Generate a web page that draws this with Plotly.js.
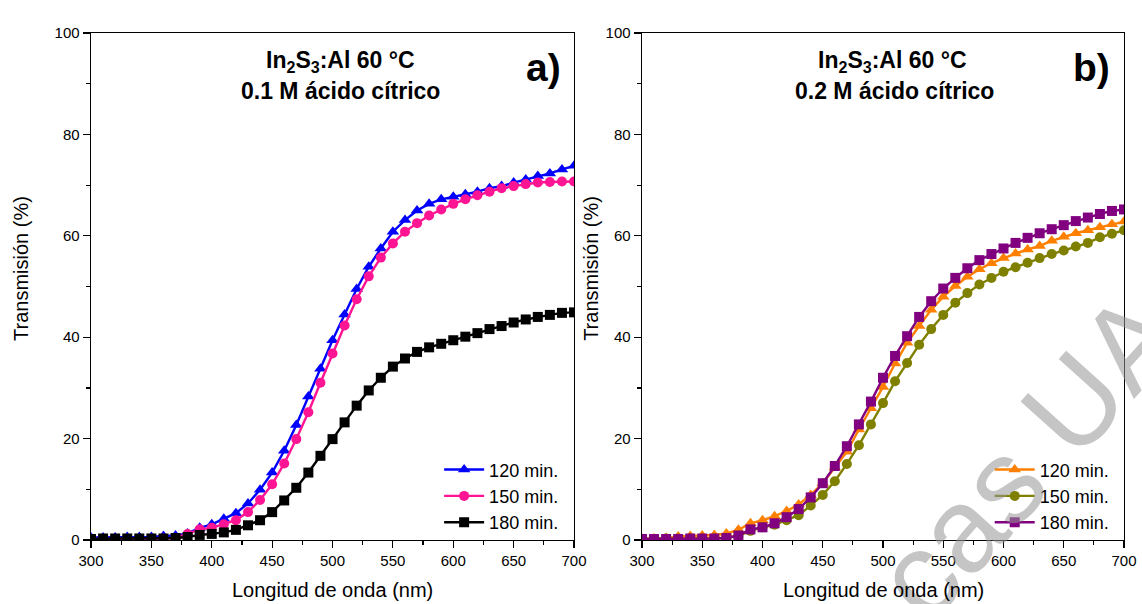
<!DOCTYPE html>
<html>
<head>
<meta charset="utf-8">
<script src="https://cdn.plot.ly/plotly-3.0.1.min.js"></script>
<style>html,body{margin:0;padding:0;background:#fff;}#chart{width:1142px;height:604px;}</style>
</head>
<body>
<div id="chart"></div>
<script>
// Wavelength (nm), 300..700 every 10 nm
const wavelength = [300,310,320,330,340,350,360,370,380,390,400,410,420,430,440,450,460,470,480,490,500,510,520,530,540,550,560,570,580,590,600,610,620,630,640,650,660,670,680,690,700];

// Panel a) 0.1 M citric acid
const a_120 = [0.5,0.5,0.5,0.6,0.6,0.6,0.8,0.9,1.3,2.4,3.1,4.2,5.3,7.2,9.9,13.3,17.6,22.7,28.3,33.8,39.4,44.5,49.5,53.9,57.5,60.8,63.1,65.0,66.3,67.2,67.7,68.2,68.7,69.4,69.8,70.5,71.1,71.8,72.3,73.1,73.8];
const a_150 = [0.2,0.2,0.2,0.2,0.2,0.2,0.3,0.4,1.2,2.1,2.4,3.1,3.9,5.5,7.9,11.0,15.1,19.9,25.2,31.0,36.8,42.3,47.5,52.0,55.7,58.5,60.8,62.5,64.0,65.2,66.3,67.2,68.0,68.7,69.4,69.8,70.2,70.5,70.6,70.7,70.7];
const a_180 = [0.2,0.3,0.3,0.3,0.3,0.3,0.3,0.4,0.6,1.0,1.2,1.5,2.0,2.9,3.9,5.5,7.8,10.3,13.3,16.6,19.9,23.2,26.5,29.5,32.0,34.2,35.8,37.1,38.0,38.7,39.4,40.1,40.8,41.6,42.2,42.9,43.5,44.0,44.4,44.8,44.9];

// Panel b) 0.2 M citric acid
const b_120 = [0.3,0.3,0.4,0.7,0.8,0.9,1.0,1.3,2.0,3.3,3.9,4.7,5.7,7.0,8.9,11.2,14.3,17.4,21.8,26.0,30.2,34.8,38.9,42.2,45.4,48.0,50.1,51.9,53.4,54.6,55.6,56.5,57.3,58.0,59.0,59.8,60.5,61.1,61.7,62.3,62.8];
const b_150 = [0.2,0.2,0.3,0.3,0.3,0.3,0.3,0.4,0.8,1.8,2.5,3.0,3.9,4.9,6.8,8.9,11.6,15.0,18.7,22.8,27.0,31.3,34.9,38.5,41.6,44.4,46.8,48.7,50.4,51.7,52.9,53.8,54.7,55.6,56.4,57.1,57.9,58.6,59.7,60.4,61.1];
const b_180 = [0.2,0.2,0.2,0.2,0.3,0.3,0.3,0.4,0.9,2.1,2.5,3.3,4.5,6.1,8.4,11.2,14.6,18.5,22.8,27.3,32.0,36.3,40.2,44.0,47.1,49.6,51.7,53.6,55.2,56.4,57.5,58.6,59.6,60.5,61.3,62.1,62.9,63.6,64.3,64.9,65.2];

const seriesNames = ['120 min.','150 min.','180 min.'];
const xTitle = 'Longitud de onda (nm)';
const yTitle = 'Transmisión (%)';
const titleLine1 = '<b>In<sub>2</sub>S<sub>3</sub>:Al 60 °C</b>';
const titleA = '<b>0.1 M ácido cítrico</b>';
const titleB = '<b>0.2 M ácido cítrico</b>';
const watermark = 'cas UA';

const FONT = 'Liberation Sans, Arial, Helvetica, sans-serif';

function tr(y, name, color, symbol, xa, ya, leg) {
  return {
    x: wavelength, y: y, name: name, type: 'scatter', mode: 'lines+markers',
    xaxis: xa, yaxis: ya, legend: leg,
    line: {color: color, width: 2.4},
    marker: {color: color, symbol: symbol, size: symbol === 'triangle-up' ? 11 : 10, line: {width: 0}}
  };
}

const data = [
  tr(a_120, seriesNames[0], '#0000FF', 'triangle-up', 'x', 'y', 'legend'),
  tr(a_150, seriesNames[1], '#FF1493', 'circle', 'x', 'y', 'legend'),
  tr(a_180, seriesNames[2], '#000000', 'square', 'x', 'y', 'legend'),
  tr(b_120, seriesNames[0], '#FF8000', 'triangle-up', 'x2', 'y2', 'legend2'),
  tr(b_150, seriesNames[1], '#808000', 'circle', 'x2', 'y2', 'legend2'),
  tr(b_180, seriesNames[2], '#800080', 'square', 'x2', 'y2', 'legend2')
];

function xax(domain, anchor) {
  return {
    domain: domain, anchor: anchor, range: [300, 700], dtick: 50, tick0: 300,
    ticks: 'outside', ticklen: 7, tickwidth: 1.2, tickcolor: '#000',
    showline: true, linecolor: '#000', linewidth: 1.4, mirror: true,
    showgrid: false, zeroline: false,
    tickfont: {family: FONT, size: 15, color: '#000'},
    minor: {dtick: 25, ticks: 'outside', ticklen: 4, tickwidth: 1.2, tickcolor: '#000', showgrid: false}
  };
}
function yax(anchor) {
  return {
    domain: [0, 1], anchor: anchor, range: [0, 100], dtick: 20, tick0: 0,
    ticks: 'outside', ticklen: 7, tickwidth: 1.2, tickcolor: '#000',
    showline: true, linecolor: '#000', linewidth: 1.4, mirror: true,
    showgrid: false, zeroline: false,
    tickfont: {family: FONT, size: 15, color: '#000'},
    minor: {dtick: 10, ticks: 'outside', ticklen: 4, tickwidth: 1.2, tickcolor: '#000', showgrid: false}
  };
}

const legendCommon = {
  bgcolor: 'rgba(0,0,0,0)', borderwidth: 0, xanchor: 'left', yanchor: 'top',
  font: {family: FONT, size: 18, color: '#000'}, itemwidth: 40, tracegroupgap: 0
};

function ann(text, x, y, size, extra) {
  return Object.assign({text: text, x: x, y: y, xref: 'paper', yref: 'paper', showarrow: false,
    xanchor: 'center', yanchor: 'middle', font: {family: FONT, size: size, color: '#000'}}, extra || {});
}

const layout = {
  width: 1142, height: 604,
  margin: {l: 91, r: 18, t: 33, b: 64},
  paper_bgcolor: '#fff', plot_bgcolor: '#fff',
  showlegend: true,
  xaxis: xax([0, 0.4676], 'y'),
  yaxis: yax('x'),
  xaxis2: xax([0.5334, 1], 'y2'),
  yaxis2: yax('x2'),
  legend: Object.assign({x: 0.337, y: 0.175}, legendCommon),
  legend2: Object.assign({x: 0.870, y: 0.175}, legendCommon),
  annotations: [
    ann(watermark, 0.906, 0.168, 120, {textangle: -48, font: {family: FONT, size: 120, color: 'rgba(150,150,150,0.55)'}}),
    ann(titleLine1, 0.242, 0.944, 23),
    ann(titleA, 0.242, 0.886, 23),
    ann('<b>a)</b>', 0.4376, 0.931, 39),
    ann(titleLine1, 0.776, 0.944, 23),
    ann(titleB, 0.778, 0.886, 23),
    ann('<b>b)</b>', 0.969, 0.931, 39),
    ann(xTitle, 0.2338, -0.0986, 20),
    ann(xTitle, 0.7667, -0.0986, 20),
    ann(yTitle, -0.0678, 0.5365, 20, {textangle: -90}),
    ann(yTitle, 0.4839, 0.5365, 20, {textangle: -90})
  ]
};

Plotly.newPlot('chart', data, layout, {displayModeBar: false, staticPlot: true});
</script>
</body>
</html>
